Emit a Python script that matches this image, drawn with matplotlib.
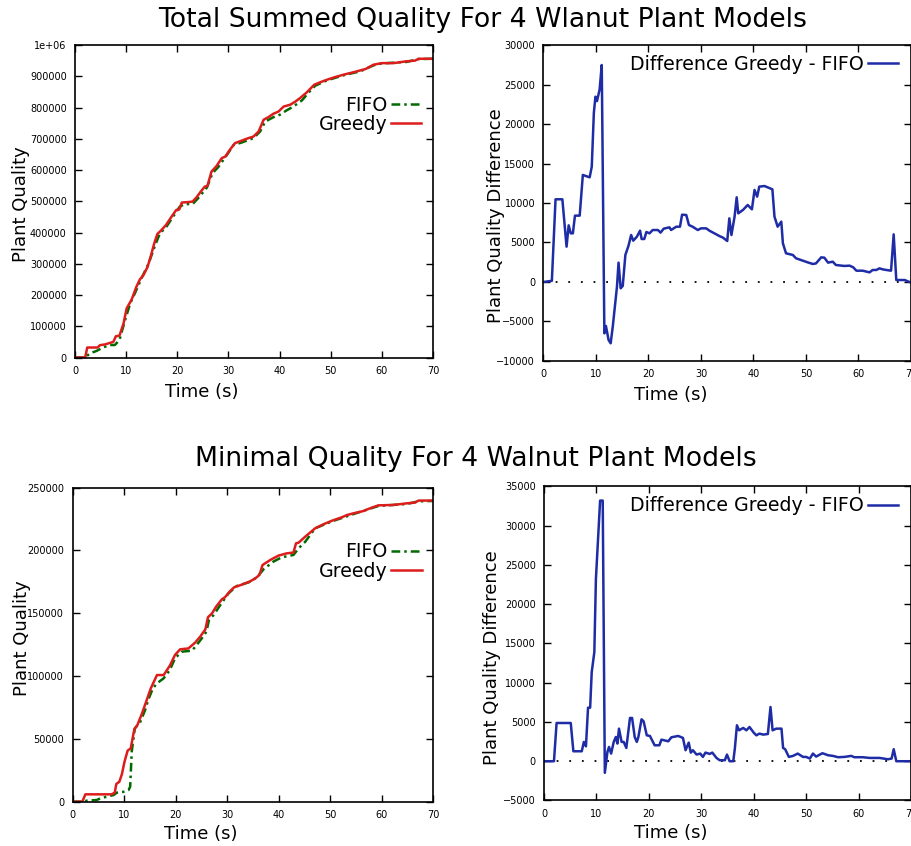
import matplotlib
matplotlib.use("Agg")
import matplotlib.pyplot as plt

# ---- Total summed quality (top row) ----
sum_greedy_t = [0, 2.0, 2.4, 4.4, 4.9, 5.9, 7.5, 8.0, 8.7, 9.5, 10.1, 11.1, 12.0, 12.7, 13.4, 14.2,
                14.8, 15.5, 16.1, 16.8, 17.8, 18.9, 19.8, 20.4, 20.9, 21.9, 23.0, 23.8, 24.6, 25.4,
                25.9, 26.7, 27.7, 28.7, 29.4, 30.3, 31.3, 32.6, 33.9, 34.9, 35.9, 36.9, 37.8, 38.8,
                39.8, 40.8, 42.1, 43.1, 44.0, 45.3, 46.8, 48.0, 49.3, 50.6, 52.5, 54.5, 56.8, 58.4,
                60.0, 62.3, 64.9, 66.5, 67.2, 70.0]
sum_greedy_q = [0, 0, 32000, 32000, 39500, 42000, 50000, 68000, 70000, 109000, 157000, 186000,
                226000, 250000, 264000, 290000, 323000, 365000, 395000, 406000, 424000, 451000,
                472000, 474000, 496000, 497000, 499000, 513000, 531000, 547000, 549000, 595000,
                613000, 638000, 643000, 665000, 686000, 694000, 702000, 707000, 723000, 761000,
                769000, 780000, 787000, 803000, 809000, 819000, 830000, 848000, 873000, 881000,
                889000, 896000, 905000, 913000, 923000, 937000, 942000, 942000, 948000, 950000,
                956000, 956000]

sum_fifo_t = [0, 2.0, 2.9, 4.2, 5.5, 6.8, 7.8, 8.7, 9.8, 10.8, 11.7, 13.0, 14.4, 15.7, 16.6, 17.9,
              19.2, 20.5, 21.5, 23.0, 24.1, 25.8, 26.9, 28.0, 29.7, 31.0, 32.6, 34.9, 36.2, 37.2,
              38.8, 40.1, 41.4, 42.7, 44.4, 45.7, 47.0, 49.3, 52.5, 55.8, 58.4, 60.0, 64.9, 67.2, 70.0]
sum_fifo_q = [0, 0, 13000, 21000, 32000, 40000, 40000, 56000, 120000, 173000, 205000, 253000,
              301000, 360000, 397000, 419000, 451000, 483000, 491000, 491000, 510000, 544000,
              590000, 609000, 648000, 680000, 688000, 702000, 723000, 755000, 769000, 777000,
              791000, 803000, 823000, 848000, 870000, 887000, 903000, 916000, 935000, 941000,
              946000, 955000, 956000]

sum_diff_t = [0, 1.6, 2.3, 3.6, 4.4, 4.8, 5.2, 5.6, 6.0, 6.9, 7.5, 8.8, 9.2, 9.6, 9.9, 10.2, 10.7,
              11.1, 11.6, 11.9, 12.4, 12.8, 13.2, 14.0, 14.3, 14.7, 15.1, 15.6, 16.2, 16.7, 17.1,
              17.8, 18.4, 18.7, 19.2, 19.6, 20.2, 20.8, 21.8, 22.3, 22.9, 24.0, 24.3, 25.3, 26.0,
              26.4, 27.2, 27.7, 28.4, 29.4, 30.0, 31.0, 31.6, 32.3, 33.5, 34.2, 35.0, 35.4, 35.8,
              36.4, 36.8, 37.1, 38.0, 38.9, 39.7, 40.2, 40.7, 41.1, 42.1, 42.7, 43.6, 44.0, 44.6,
              45.3, 45.6, 46.2, 47.5, 48.1, 49.4, 50.3, 51.3, 51.9, 52.9, 53.5, 54.2, 55.1, 55.7,
              57.3, 58.3, 59.0, 59.6, 60.8, 62.1, 62.7, 63.4, 64.0, 64.6, 65.3, 66.2, 66.7, 67.2,
              68.8, 69.7, 70.0]
sum_diff_q = [0, 150, 10470, 10470, 4470, 7170, 6160, 6160, 8400, 8400, 13550, 13250, 14600,
              21440, 23460, 22900, 24390, 27470, -6500, -5570, -7340, -7760, -5650, -590, 2450,
              -800, -500, 3420, 4600, 5950, 5230, 5740, 6500, 5440, 5440, 6330, 6160, 6580, 6580,
              6250, 6750, 6920, 6580, 7000, 7000, 8520, 8480, 7220, 7000, 6580, 6790, 6790, 6500,
              6250, 5820, 5610, 5190, 8060, 5950, 8270, 10720, 8690, 9120, 9750, 9200, 11650,
              10800, 12070, 12150, 11980, 11730, 8270, 7000, 7640, 4900, 3630, 3420, 3000, 2700,
              2490, 2280, 2350, 3120, 3080, 2450, 2570, 2150, 2030, 2070, 1860, 1430, 1430, 1220,
              1520, 1520, 1730, 1600, 1520, 1430, 6030, 250, 250, 0, 0]

# ---- Minimal quality (bottom row) ----
min_greedy_t = [0, 1.9, 2.5, 7.6, 8.2, 8.5, 9.1, 9.6, 10.1, 10.7, 11.3, 12.0, 12.6, 13.5, 14.3,
                15.2, 16.4, 17.7, 18.9, 19.9, 20.9, 22.5, 23.8, 24.8, 25.8, 26.3, 27.1, 27.9,
                29.0, 29.6, 30.5, 31.4, 32.5, 34.4, 35.5, 36.3, 36.9, 38.4, 40.0, 41.6, 42.9,
                43.4, 43.9, 45.2, 47.1, 48.7, 50.4, 52.3, 53.3, 54.6, 56.5, 57.8, 59.4, 62.3,
                64.9, 66.5, 67.2, 70.0]
min_greedy_q = [0, 0, 5840, 5840, 7170, 14070, 15900, 22000, 31850, 40600, 42460, 57600, 61000,
                70300, 79600, 90200, 100800, 100800, 108300, 116800, 121300, 122000, 126600,
                131400, 137200, 146800, 150000, 155300, 161100, 162700, 167200, 170700, 172200,
                175200, 177800, 180500, 188400, 192400, 195900, 197700, 198300, 205700, 206200,
                211000, 217600, 220800, 223700, 226400, 228200, 229600, 231400, 233600, 235900,
                236200, 237500, 238100, 239700, 239700]

min_fifo_t = [0, 1.9, 2.8, 4.7, 5.4, 6.7, 8.0, 8.6, 10.2, 10.9, 11.2, 11.5, 12.1, 13.1, 14.1, 14.7,
              15.6, 16.4, 17.7, 18.9, 19.9, 21.2, 23.2, 24.1, 25.1, 26.0, 26.5, 27.4, 28.7, 30.3,
              31.9, 34.2, 35.8, 37.1, 39.0, 40.6, 42.9, 43.9, 45.2, 47.1, 50.4, 54.6, 57.8, 59.4,
              64.9, 67.2, 70.0]
min_fifo_q = [0, 0, 800, 1300, 2650, 4000, 5300, 7170, 8000, 9300, 12000, 39800, 58400, 62900,
              73000, 81000, 90200, 94200, 98200, 104800, 114100, 119400, 120200, 124700, 130000,
              135300, 144600, 148600, 156600, 165900, 171700, 174600, 178600, 185000, 191100,
              194500, 196400, 201700, 207000, 217600, 223200, 229000, 233300, 235400, 237000,
              239100, 239400]

min_diff_t = [0, 1.9, 2.4, 5.1, 5.6, 7.2, 7.6, 8.0, 8.4, 8.8, 9.1, 9.6, 9.9, 10.7, 11.2, 11.6, 12.1,
              12.4, 12.8, 13.3, 13.7, 14.0, 14.3, 14.8, 15.2, 15.7, 16.4, 16.8, 17.3, 17.7, 18.0,
              18.6, 19.0, 19.6, 20.2, 21.1, 22.0, 22.4, 23.7, 24.3, 25.6, 26.5, 27.0, 27.6, 28.0,
              28.4, 29.1, 29.8, 30.3, 30.8, 31.6, 32.1, 32.9, 33.5, 34.5, 34.9, 35.4, 36.1, 36.4,
              36.8, 37.2, 38.0, 38.6, 39.2, 40.0, 40.5, 41.1, 41.8, 42.7, 43.2, 43.6, 44.3, 45.3,
              45.6, 46.0, 46.7, 47.5, 48.4, 49.4, 50.0, 50.7, 51.3, 51.9, 53.1, 54.2, 55.1, 56.1,
              57.3, 58.6, 59.2, 60.8, 62.1, 64.0, 65.6, 66.3, 66.7, 67.2, 69.7, 70.0]
min_diff_q = [0, 0, 4870, 4870, 1270, 1270, 2460, 1900, 6820, 6820, 11350, 13900, 23200, 33200,
              33200, -1480, 1190, 1820, 975, 2460, 3090, 2250, 4150, 2460, 2460, 1690, 5510, 5510,
              3090, 2460, 3090, 5340, 5080, 3300, 3220, 2030, 2030, 2750, 2540, 3050, 3220, 2970,
              1400, 2370, 1100, 1400, 850, 975, 550, 1100, 930, 1100, 420, 130, 130, 850, 0, 0,
              1610, 4580, 3940, 4240, 3940, 4360, 3640, 3300, 3520, 3390, 3470, 6910, 3940, 4150,
              4150, 1690, 1530, 550, 680, 975, 550, 550, 340, 975, 590, 1020, 760, 680, 510, 550,
              680, 510, 510, 420, 420, 250, 340, 1530, 0, 0, 0]

x_ticks = [0, 10, 20, 30, 40, 50, 60, 70]
sum_yticks = [0, 100000, 200000, 300000, 400000, 500000, 600000, 700000, 800000, 900000, 1000000]
sum_ylabels = ["0", "100000", "200000", "300000", "400000", "500000", "600000", "700000",
               "800000", "900000", "1e+06"]
sum_diff_yticks = [-10000, -5000, 0, 5000, 10000, 15000, 20000, 25000, 30000]
min_yticks = [0, 50000, 100000, 150000, 200000, 250000]
min_diff_yticks = [-5000, 0, 5000, 10000, 15000, 20000, 25000, 30000, 35000]

GREEN = "#006a00"
RED = "#dd1c1c"
BLUE = "#1e2ca6"
FIFO_DASH = (0, (3.5, 1.6, 1, 1.6))


def style_axis(ax, yticks, ylabels=None):
    ax.set_xlim(0, 70)
    ax.set_ylim(yticks[0], yticks[-1])
    ax.set_xticks(x_ticks)
    ax.set_yticks(yticks)
    if ylabels is not None:
        ax.set_yticklabels(ylabels)
    ax.tick_params(direction="in", length=5, width=1, top=True, right=True,
                   labelsize=7, pad=6, colors="black")
    for s in ax.spines.values():
        s.set_linewidth(1.2)


def quality_panel(ax, gt, gq, ft, fq, yticks, ylabels, label_xy, xlabel_y, leg_xy):
    ax.plot(ft, fq, color=GREEN, lw=1.8, linestyle=FIFO_DASH, label="FIFO")
    ax.plot(gt, gq, color=RED, lw=1.8, label="Greedy")
    style_axis(ax, yticks, ylabels)
    ax.set_ylabel("Plant Quality", fontsize=13)
    ax.yaxis.set_label_coords(*label_xy)
    ax.set_xlabel("Time (s)", fontsize=13)
    ax.xaxis.set_label_coords(0.355, xlabel_y)
    ax.legend(loc="upper right", bbox_to_anchor=leg_xy, frameon=False, markerfirst=False,
              fontsize=13.7, handlelength=1.6, handletextpad=0.2, labelspacing=0.02,
              borderpad=0, borderaxespad=0)


def diff_panel(ax, dt, dq, yticks, label_xy, xlabel_y, leg_xy):
    ax.plot([0, 70], [0, 0], color="black", lw=1.3, linestyle=(0, (1, 6)))
    ax.plot(dt, dq, color=BLUE, lw=1.8, label="Difference Greedy - FIFO")
    style_axis(ax, yticks)
    ax.set_ylabel("Plant Quality Difference", fontsize=13)
    ax.yaxis.set_label_coords(*label_xy)
    ax.set_xlabel("Time (s)", fontsize=13)
    ax.xaxis.set_label_coords(0.345, xlabel_y)
    handles, labels = ax.get_legend_handles_labels()
    ax.legend(handles[-1:], labels[-1:], loc="upper right", bbox_to_anchor=leg_xy,
              frameon=False, markerfirst=False, fontsize=13.7, handlelength=1.6,
              handletextpad=0.2, borderpad=0, borderaxespad=0)


fig = plt.figure(figsize=(9.12, 8.46), dpi=100)
ax1 = fig.add_axes([0.0822, 0.5774, 0.3925, 0.3694])
ax2 = fig.add_axes([0.5959, 0.5733, 0.4030, 0.3735])
ax3 = fig.add_axes([0.0795, 0.0524, 0.3953, 0.3712])
ax4 = fig.add_axes([0.5965, 0.0538, 0.4024, 0.3712])

quality_panel(ax1, sum_greedy_t, sum_greedy_q, sum_fifo_t, sum_fifo_q,
              sum_yticks, sum_ylabels, (-0.126, 0.49), -0.082, (0.968, 0.838))
diff_panel(ax2, sum_diff_t, sum_diff_q, sum_diff_yticks, (-0.105, 0.46), -0.078, (0.965, 0.968))
quality_panel(ax3, min_greedy_t, min_greedy_q, min_fifo_t, min_fifo_q,
              min_yticks, None, (-0.116, 0.52), -0.074, (0.969, 0.826))
diff_panel(ax4, min_diff_t, min_diff_q, min_diff_yticks, (-0.117, 0.455), -0.075, (0.965, 0.968))

fig.text(0.529, 0.976, "Total Summed Quality For 4 Wlanut Plant Models",
         ha="center", va="center", fontsize=19.2)
fig.text(0.522, 0.457, "Minimal Quality For 4 Walnut Plant Models",
         ha="center", va="center", fontsize=19.2)

fig.savefig("out.png", dpi=100)
